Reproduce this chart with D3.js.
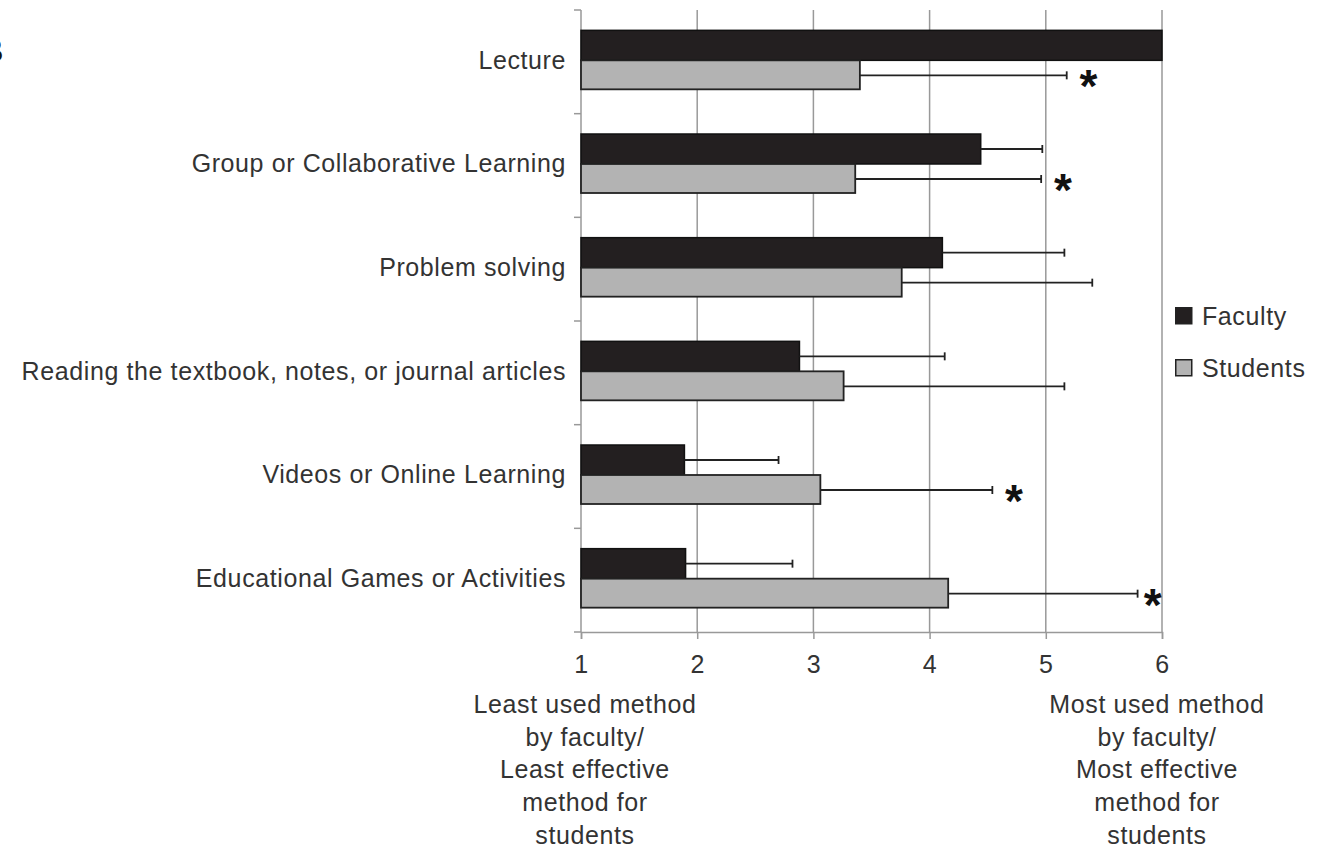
<!DOCTYPE html>
<html>
<head>
<meta charset="utf-8">
<script src="https://cdn.jsdelivr.net/npm/d3@7"></script>
<style>
	body { margin: 0; background: #fff; }
	text { font-family: "Liberation Sans", Arial, sans-serif; fill: #333; letter-spacing: 0.6px; }
</style>
</head>
<body>
<svg id="chart" width="1327" height="846"></svg>
<script>

const categories = [
	"Lecture",
	"Group or Collaborative Learning",
	"Problem solving",
	"Reading the textbook, notes, or journal articles",
	"Videos or Online Learning",
	"Educational Games or Activities"
];
const faculty_mean = [6.0, 4.44, 4.11, 2.88, 1.89, 1.90];
const faculty_err = [null, 4.97, 5.16, 4.13, 2.70, 2.82];
const student_mean = [3.40, 3.36, 3.76, 3.26, 3.06, 4.16];
const student_err = [5.18, 4.96, 5.40, 5.16, 4.54, 5.79];
const significant = [true, true, false, false, true, true];
const series_names = ["Faculty", "Students"];
const x_ticks = [1, 2, 3, 4, 5, 6];
const low_note = ["Least used method", "by faculty/", "Least effective", "method for", "students"];
const high_note = ["Most used method", "by faculty/", "Most effective", "method for", "students"];

const svg = d3.select("#chart");
const plot_left = 581, plot_right = 1162, plot_top = 10, plot_bottom = 632;
const font_size = "25px";

const x = d3.scaleLinear().domain([1, 6]).range([plot_left, plot_right]);
const y = d3.scaleBand().domain(categories).range([plot_top, plot_bottom]);
const bar_h = 30;
const grid_color = "#999";

// panel letter, cut off by the page edge
svg.append("text")
	.attr("x", 4).attr("y", 62)
	.attr("text-anchor", "end")
	.style("font-size", "33px")
	.style("font-weight", "bold")
	.style("fill", "#111")
	.text("B");

// grid lines
svg.append("g").selectAll("line")
	.data(x_ticks.slice(1))
	.enter().append("line")
	.attr("x1", d => x(d)).attr("x2", d => x(d))
	.attr("y1", plot_top).attr("y2", plot_bottom)
	.style("stroke", grid_color)
	.style("stroke-width", 1.5);

// x axis
const x_axis = svg.append("g")
	.attr("transform", "translate(0," + plot_bottom + ")")
	.call(d3.axisBottom(x).tickValues(x_ticks).tickSize(7).tickPadding(16).tickFormat(d3.format("d")));
x_axis.select(".domain").style("stroke", grid_color).style("stroke-width", 1.5);
x_axis.selectAll(".tick line").style("stroke", grid_color).style("stroke-width", 1.5);
x_axis.selectAll(".tick text").style("font-size", font_size).style("fill", "#333")
	.style("font-family", "'Liberation Sans', Arial, sans-serif");

// y axis: tick marks between categories
const y_edges = d3.range(categories.length + 1).map(i => plot_top + i * y.step());
svg.append("line")
	.attr("x1", plot_left).attr("x2", plot_left).attr("y1", plot_top).attr("y2", plot_bottom)
	.style("stroke", grid_color).style("stroke-width", 1.5);
svg.append("g").selectAll("line")
	.data(y_edges)
	.enter().append("line")
	.attr("x1", plot_left - 7).attr("x2", plot_left)
	.attr("y1", d => d).attr("y2", d => d)
	.style("stroke", grid_color).style("stroke-width", 1.5);

// category labels
svg.append("g").selectAll("text")
	.data(categories)
	.enter().append("text")
	.attr("x", plot_left - 15)
	.attr("y", d => y(d) + y.bandwidth() / 2 - 2)
	.attr("dy", "0.35em")
	.attr("text-anchor", "end")
	.style("font-size", font_size)
	.text(d => d);

const rows = categories.map((c, i) => ({
	cat: c, fm: faculty_mean[i], fe: faculty_err[i],
	sm: student_mean[i], se: student_err[i], sig: significant[i]
}));

const center = d => y(d.cat) + y.bandwidth() / 2 - 1.5;

const bars = svg.append("g");
// faculty bars
bars.selectAll(".fac")
	.data(rows)
	.enter().append("rect")
	.attr("class", "fac")
	.attr("x", x(1))
	.attr("y", d => center(d) - bar_h)
	.attr("width", d => x(d.fm) - x(1))
	.attr("height", bar_h)
	.style("fill", "#231f20")
	.style("stroke", "#111")
	.style("stroke-width", 1.5);

// student bars
bars.selectAll(".stu")
	.data(rows)
	.enter().append("rect")
	.attr("class", "stu")
	.attr("x", x(1))
	.attr("y", d => center(d))
	.attr("width", d => x(d.sm) - x(1))
	.attr("height", bar_h - 1)
	.style("fill", "#b3b3b3")
	.style("stroke", "#222")
	.style("stroke-width", 1.8);

// error bars
function errorBars(data, mean, err, offset) {
	const g = svg.append("g").style("stroke", "#222").style("stroke-width", 1.8);
	const d2 = data.filter(d => d[err] != null);
	g.selectAll(".stem")
		.data(d2).enter().append("line")
		.attr("x1", d => x(d[mean])).attr("x2", d => x(d[err]))
		.attr("y1", d => center(d) + offset).attr("y2", d => center(d) + offset);
	g.selectAll(".cap")
		.data(d2).enter().append("line")
		.attr("x1", d => x(d[err])).attr("x2", d => x(d[err]))
		.attr("y1", d => center(d) + offset - 4).attr("y2", d => center(d) + offset + 4);
}
errorBars(rows, "fm", "fe", -bar_h / 2);
errorBars(rows, "sm", "se", bar_h / 2);

// significance asterisks
svg.append("g").selectAll("text")
	.data(rows.filter(d => d.sig))
	.enter().append("text")
	.attr("x", d => Math.min(x(d.se) + 22, plot_right - 9))
	.attr("y", d => center(d) + bar_h / 2 + 27)
	.attr("text-anchor", "middle")
	.style("font-size", "46px")
	.style("font-weight", "bold")
	.style("fill", "#111")
	.text("*");

// legend
const legend = svg.append("g").attr("transform", "translate(1175,307)");
legend.selectAll("rect")
	.data(series_names)
	.enter().append("rect")
	.attr("x", 0.75).attr("y", (d, i) => i * 52 + 0.75)
	.attr("width", 16).attr("height", 16)
	.style("fill", (d, i) => i === 0 ? "#231f20" : "#b3b3b3")
	.style("stroke", "#222").style("stroke-width", 1.5);
legend.selectAll("text")
	.data(series_names)
	.enter().append("text")
	.attr("x", 27).attr("y", (d, i) => i * 52 + 9)
	.attr("dy", "0.35em")
	.style("font-size", font_size)
	.text(d => d);

// end-of-scale notes
function note(lines, cx) {
	svg.append("g").selectAll("text")
		.data(lines)
		.enter().append("text")
		.attr("x", cx)
		.attr("y", (d, i) => 713 + i * 32.7)
		.attr("text-anchor", "middle")
		.style("font-size", font_size)
		.text(d => d);
}
note(low_note, x(1) + 4);
note(high_note, x(6) - 5);

</script>
</body>
</html>
